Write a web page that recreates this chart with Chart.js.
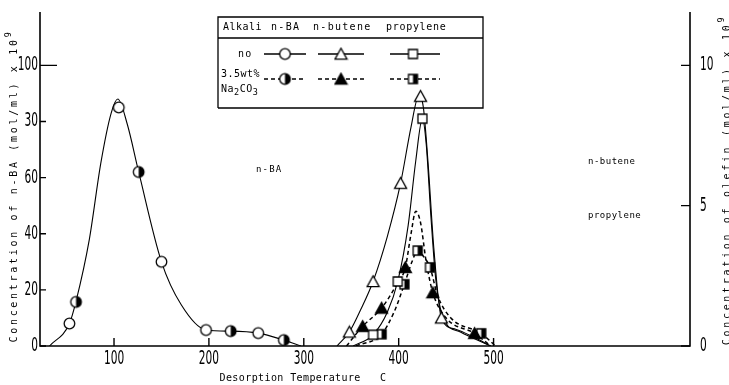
<!DOCTYPE html>
<html>
<head>
<meta charset="utf-8">
<script src="https://cdn.jsdelivr.net/npm/chart.js@4.4.0/dist/chart.umd.min.js"></script>
<style>
  html, body { margin: 0; padding: 0; background: #fff; }
  #wrap { width: 729px; height: 385px; position: relative; }
</style>
</head>
<body>
<div id="wrap"><canvas id="chart"></canvas></div>
<script>
// Values

// n-BA, left axis (mol/ml x 10^9)
const nbaNoTemp = [53, 105, 150, 197, 252];
const nbaNoConc = [8, 85, 30, 5.7, 4.6];
const nbaNaTemp = [60, 126, 223, 279];
const nbaNaConc = [15.7, 62, 5.3, 2.1];
// hand drawn curve through both n-BA sets
const nbaCurveTemp = [32, 53, 60, 74, 86, 97, 104, 114, 126, 150, 171, 197, 223, 252, 279, 297];
const nbaCurveConc = [0, 8, 16, 38, 65, 83, 88, 79, 62, 30, 14.6, 5.7, 5.3, 4.6, 2.1, 0];

// olefins, right axis
const butNoTemp = [348, 373, 402, 423, 445];
const butNoConc = [0.5, 2.3, 5.8, 8.9, 1.0];
const butNoCurveTemp = [335, 348, 360, 373, 388, 402, 413, 421, 426, 431, 437, 445, 460, 480, 497];
const butNoCurveConc = [0, 0.5, 1.3, 2.3, 3.9, 5.8, 7.8, 8.9, 8.5, 6.5, 3.5, 1.0, 0.6, 0.3, 0];

const propNoTemp = [373, 399, 425];
const propNoConc = [0.4, 2.3, 8.1];
const propNoCurveTemp = [352, 373, 388, 399, 410, 418, 425, 429, 434, 439, 447, 465, 497];
const propNoCurveConc = [0, 0.4, 1.2, 2.3, 4.3, 6.6, 8.1, 7.2, 4.6, 2.4, 1.0, 0.5, 0];

const butNaTemp = [362, 382, 407, 436, 480];
const butNaConc = [0.7, 1.35, 2.8, 1.9, 0.45];
const butNaCurveTemp = [345, 362, 382, 398, 407, 413, 418, 423, 429, 436, 450, 480, 497];
const butNaCurveConc = [0, 0.7, 1.35, 2.2, 2.8, 4.0, 4.8, 4.4, 3.0, 1.9, 1.0, 0.45, 0];

const propNaTemp = [382, 406, 420, 433, 487];
const propNaConc = [0.42, 2.2, 3.4, 2.8, 0.45];
const propNaCurveTemp = [355, 382, 395, 406, 414, 420, 426, 433, 441, 455, 487, 502];
const propNaCurveConc = [0, 0.42, 1.2, 2.2, 3.0, 3.4, 3.2, 2.8, 1.8, 1.0, 0.45, 0];

// axes
const xTicks = [100, 200, 300, 400, 500];
const leftTicks = [0, 20, 40, 60, 80, 100];
const leftTickLabels = ['0', '20', '40', '60', '30', '100'];   // "80" is printed as "30" in the scan
const rightTicks = [0, 5, 10];

const pts = (xs, ys) => xs.map((x, i) => ({ x: x, y: ys[i] }));

const MONO = '"DejaVu Sans Mono", monospace';
const NUM = '19px "DejaVu Sans Condensed", sans-serif';

// point glyphs
function marker(kind) {
    const c = document.createElement('canvas');
    c.width = 15; c.height = 15;
    const g = c.getContext('2d');
    const m = 7.5;
    g.lineWidth = 1.3;
    g.strokeStyle = '#000';
    g.beginPath();
    if (kind.endsWith('circle')) {
        g.arc(m, m, 5.3, 0, Math.PI * 2);
    } else if (kind.endsWith('tri')) {
        g.moveTo(m, 1.8); g.lineTo(m + 6, 12.6); g.lineTo(m - 6, 12.6); g.closePath();
    } else {
        g.rect(m - 4.5, m - 4.5, 9, 9);
    }
    g.fillStyle = kind.startsWith('fill') ? '#000' : '#fff';
    g.fill();
    if (kind.startsWith('half')) {
        g.save();
        g.clip();
        g.fillStyle = '#000';
        g.fillRect(m, 0, 8, 15);
        g.restore();
    }
    g.stroke();
    return c;
}

const mk = {
    openCircle: marker('open-circle'),
    halfCircle: marker('half-circle'),
    openTri: marker('open-tri'),
    fillTri: marker('fill-tri'),
    openSq: marker('open-sq'),
    halfSq: marker('half-sq')
};

function curve(xs, ys, axis, dashed) {
    return {
        data: pts(xs, ys),
        yAxisID: axis,
        borderColor: '#000',
        borderWidth: dashed ? 1.5 : 1.1,
        borderDash: dashed ? [4, 3] : [],
        pointRadius: 0,
        cubicInterpolationMode: 'monotone',
        fill: false,
        order: 1
    };
}

function points(xs, ys, axis, style) {
    return {
        data: pts(xs, ys),
        yAxisID: axis,
        showLine: false,
        pointStyle: style,
        pointRadius: 6,
        order: 0
    };
}

// draw text in pieces, shift > 0 raises, < 0 lowers (sub/superscripts)
function richText(ctx, parts, x, y, size, spacing, measureOnly) {
    let cx = x;
    parts.forEach(([t, shift]) => {
        const s = shift ? size * 0.85 : size;
        ctx.font = s + 'px ' + MONO;
        ctx.letterSpacing = spacing + 'px';
        if (!measureOnly) ctx.fillText(t, cx, y - shift);
        cx += ctx.measureText(t).width;
    });
    ctx.letterSpacing = '0px';
    return cx - x;
}

function centeredRich(ctx, parts, size, spacing) {
    const w = richText(ctx, parts, 0, 0, size, spacing, true);
    richText(ctx, parts, -w / 2, 0, size, spacing);
}

// the scan uses tall, narrow digits for tick numbers
function narrowNum(ctx, text, x, y, align) {
    ctx.save();
    ctx.font = NUM;
    ctx.textAlign = align;
    ctx.textBaseline = 'middle';
    ctx.translate(x, y);
    ctx.scale(0.62, 1);
    ctx.fillText(text, 0, 0);
    ctx.restore();
}

const decor = {
    id: 'decor',
    afterDraw(chart) {
        const { ctx, chartArea: a, scales } = chart;
        ctx.save();
        ctx.strokeStyle = '#000';
        ctx.fillStyle = '#000';
        ctx.lineWidth = 1.6;

        // frame: left, bottom, right
        ctx.beginPath();
        ctx.moveTo(a.left, a.top);
        ctx.lineTo(a.left, a.bottom);
        ctx.lineTo(a.right, a.bottom);
        ctx.lineTo(a.right, a.top);
        ctx.stroke();

        // ticks point inward
        ctx.lineWidth = 1.4;
        ctx.beginPath();
        xTicks.forEach(v => {
            const px = scales.x.getPixelForValue(v);
            ctx.moveTo(px, a.bottom);
            ctx.lineTo(px, a.bottom - 8);
        });
        leftTicks.forEach(v => {
            const py = scales.y.getPixelForValue(v);
            ctx.moveTo(a.left, py);
            ctx.lineTo(a.left + (v === 100 ? 17 : 6), py);
        });
        rightTicks.forEach(v => {
            const py = scales.y2.getPixelForValue(v);
            ctx.moveTo(a.right, py);
            ctx.lineTo(a.right - 9, py);
        });
        ctx.stroke();

        // tick numbers
        xTicks.forEach(v => narrowNum(ctx, String(v), scales.x.getPixelForValue(v), a.bottom + 13, 'center'));
        leftTicks.forEach((v, i) => narrowNum(ctx, leftTickLabels[i], a.left - 2, scales.y.getPixelForValue(v), 'right'));
        rightTicks.forEach(v => narrowNum(ctx, String(v), a.right + 10, scales.y2.getPixelForValue(v), 'left'));

        ctx.textBaseline = 'middle';
        ctx.textAlign = 'left';

        // axis titles
        ctx.save();
        ctx.translate(14, 186);
        ctx.rotate(-Math.PI / 2);
        centeredRich(ctx, [['Concentration of n-BA (mol/ml) x 10', 0], ['9', 5]], 10, 2.7);
        ctx.restore();

        ctx.save();
        ctx.translate(727, 180);
        ctx.rotate(-Math.PI / 2);
        centeredRich(ctx, [['Concentration of olefin (mol/ml) x 10', 0], ['9', 5]], 10, 2.7);
        ctx.restore();

        ctx.save();
        ctx.translate(303, 378);
        centeredRich(ctx, [['Desorption Temperature   C', 0]], 10, 0.4);
        ctx.restore();

        // curve labels
        richText(ctx, [['n-BA', 0]], 256, 170, 9, 1.2);
        richText(ctx, [['n-butene', 0]], 588, 162, 9, 0.5);
        richText(ctx, [['propylene', 0]], 588, 216, 9, 0.5);

        // legend table
        const L = 218, R = 483, T = 17, B = 108;
        ctx.lineWidth = 1.3;
        ctx.beginPath();
        ctx.moveTo(L, B); ctx.lineTo(L, T); ctx.lineTo(R, T); ctx.lineTo(R, B); ctx.lineTo(L, B);
        ctx.moveTo(L, 38); ctx.lineTo(R, 38);
        ctx.stroke();

        richText(ctx, [['Alkali', 0]], 223, 27, 10, 0.5);
        richText(ctx, [['n-BA', 0]], 271, 27, 10, 1.3);
        richText(ctx, [['n-butene', 0]], 313, 27, 10, 1.3);
        richText(ctx, [['propylene', 0]], 386, 27, 10, 0.7);
        richText(ctx, [['no', 0]], 238, 54, 10, 1.3);
        richText(ctx, [['3.5wt%', 0]], 221, 74, 10, 0.5);
        richText(ctx, [['Na', 0], ['2', -4], ['CO', 0], ['3', -4]], 221, 89, 10, 0.5);

        const rows = [
            { y: 54, dash: [], syms: [mk.openCircle, mk.openTri, mk.openSq] },
            { y: 79, dash: [4, 3], syms: [mk.halfCircle, mk.fillTri, mk.halfSq] }
        ];
        const cols = [[264, 306, 285], [318, 364, 341], [390, 440, 413]];
        rows.forEach(r => {
            ctx.setLineDash(r.dash);
            ctx.lineWidth = 1.3;
            cols.forEach(([x0, x1, xc], i) => {
                ctx.beginPath();
                ctx.moveTo(x0, r.y); ctx.lineTo(x1, r.y);
                ctx.stroke();
                const s = r.syms[i];
                ctx.drawImage(s, xc - s.width / 2, r.y - s.height / 2);
            });
        });
        ctx.setLineDash([]);
        ctx.restore();
    }
};

new Chart(document.getElementById('chart'), {
    type: 'line',
    data: {
        datasets: [
            points(nbaNoTemp, nbaNoConc, 'y', mk.openCircle),
            points(nbaNaTemp, nbaNaConc, 'y', mk.halfCircle),
            points(butNoTemp, butNoConc, 'y2', mk.openTri),
            points(propNoTemp, propNoConc, 'y2', mk.openSq),
            points(butNaTemp, butNaConc, 'y2', mk.fillTri),
            points(propNaTemp, propNaConc, 'y2', mk.halfSq),
            curve(nbaCurveTemp, nbaCurveConc, 'y', false),
            curve(butNoCurveTemp, butNoCurveConc, 'y2', false),
            curve(propNoCurveTemp, propNoCurveConc, 'y2', false),
            curve(butNaCurveTemp, butNaCurveConc, 'y2', true),
            curve(propNaCurveTemp, propNaCurveConc, 'y2', true)
        ]
    },
    options: {
        responsive: true,
        maintainAspectRatio: false,
        devicePixelRatio: 1,
        animation: false,
        layout: { padding: { top: 12, left: 0, right: 0, bottom: 0 } },
        plugins: {
            legend: { display: false },
            tooltip: { enabled: false }
        },
        scales: {
            x: {
                type: 'linear',
                min: 22,
                max: 707,
                afterFit: s => { s.height = 39; },
                afterBuildTicks: s => { s.ticks = xTicks.map(v => ({ value: v })); },
                grid: { display: false, drawTicks: false },
                border: { display: false },
                ticks: { display: false }
            },
            y: {
                position: 'left',
                min: 0,
                max: 119,
                afterFit: s => { s.width = 40; },
                afterBuildTicks: s => { s.ticks = leftTicks.map(v => ({ value: v })); },
                grid: { display: false, drawTicks: false },
                border: { display: false },
                ticks: { display: false }
            },
            y2: {
                position: 'right',
                min: 0,
                max: 11.9,
                afterFit: s => { s.width = 39; },
                afterBuildTicks: s => { s.ticks = rightTicks.map(v => ({ value: v })); },
                grid: { display: false, drawTicks: false },
                border: { display: false },
                ticks: { display: false }
            }
        }
    },
    plugins: [decor]
});
</script>
</body>
</html>
